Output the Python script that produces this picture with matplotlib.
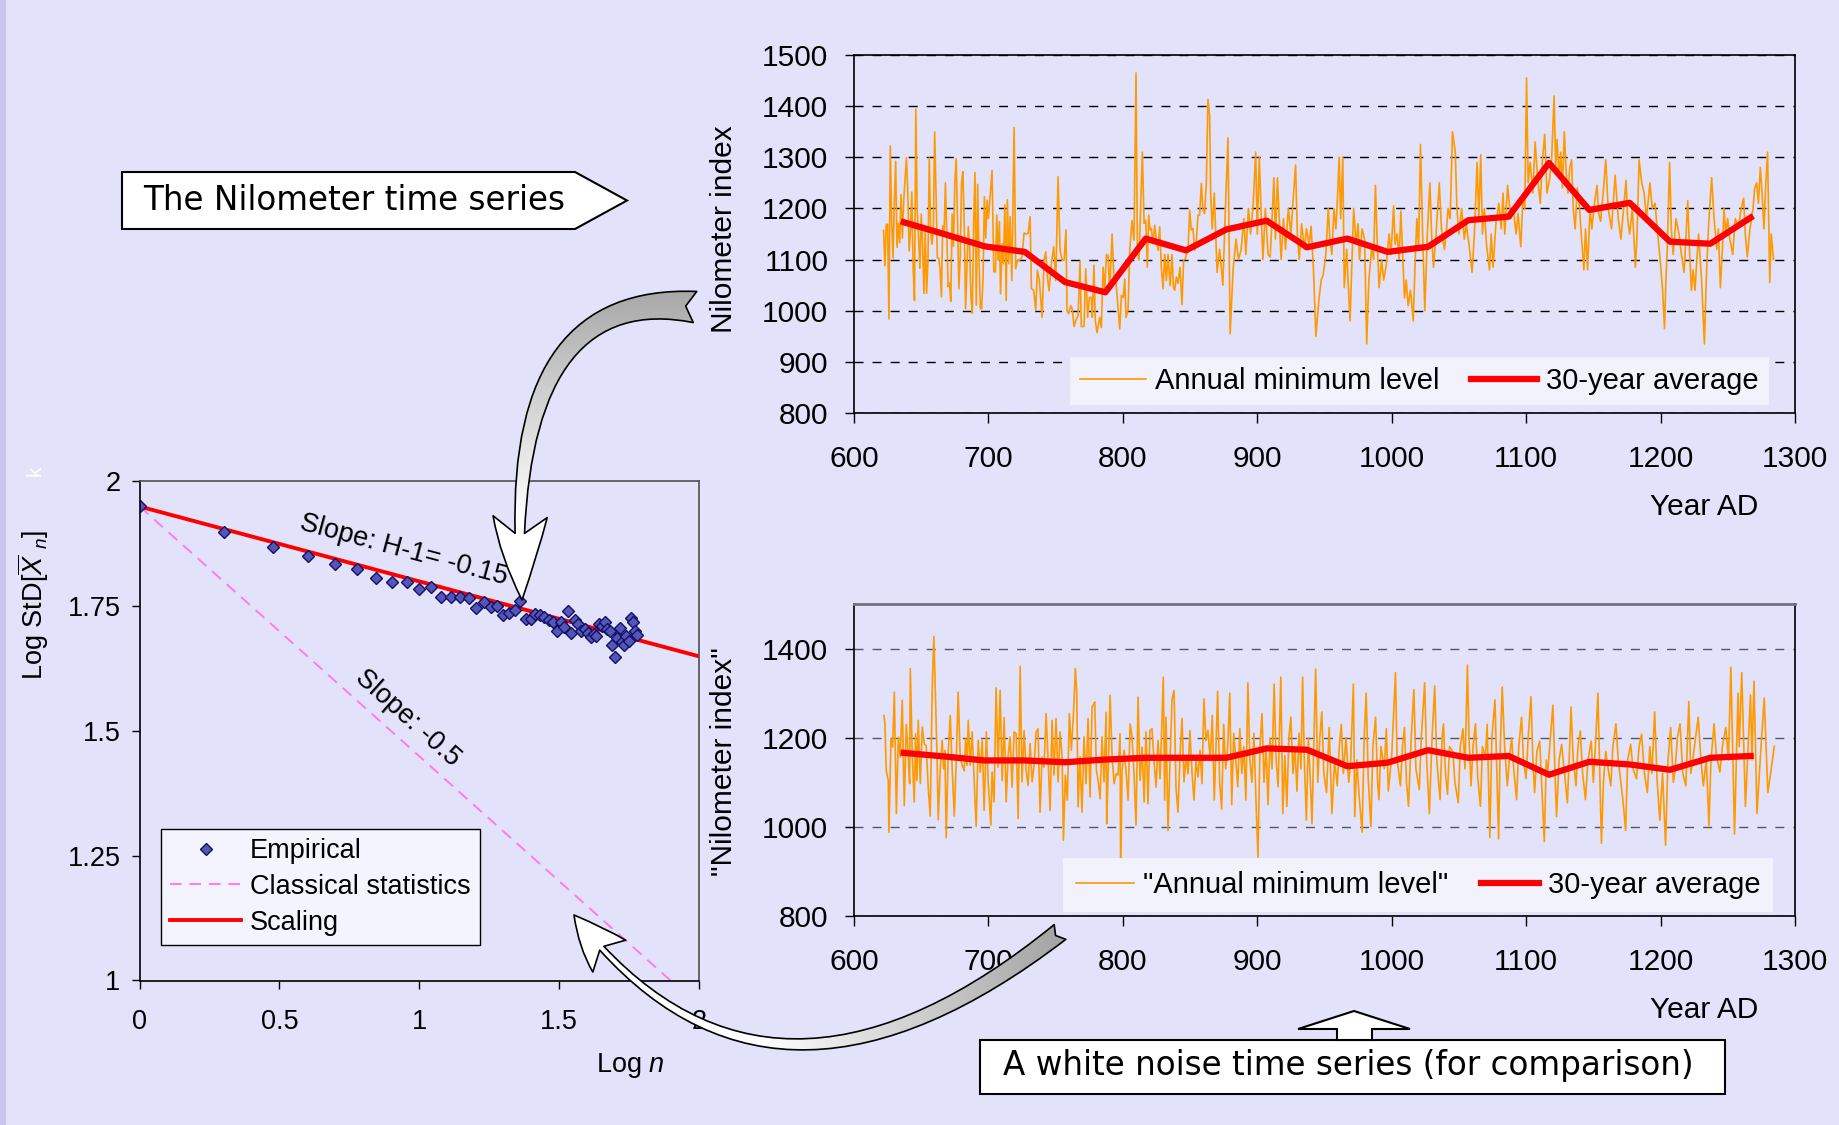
import math

import matplotlib.pyplot as plt
import numpy as np
from matplotlib.colors import LinearSegmentedColormap
from matplotlib.lines import Line2D
from matplotlib.patches import ArrowStyle, FancyArrowPatch, Polygon, Rectangle
from matplotlib.path import Path
from matplotlib.ticker import FormatStrFormatter

plt.rcParams['font.family'] = ['Liberation Sans', 'DejaVu Sans']
plt.rcParams['mathtext.fontset'] = 'custom'
plt.rcParams['mathtext.rm'] = 'Liberation Sans'
plt.rcParams['mathtext.it'] = 'Liberation Sans:italic'

W, H = 1839, 1125
BG = '#E2E2FA'
ORANGE = '#FF9900'
RED = '#FF0000'

# --- Nilometer annual minimum ---
nile_year = list(range(622, 701)) + [
    702.7, 704.0, 705.2, 706.2, 707.2, 708.2, 709.0, 710.2, 711.2, 712.2, 713.2, 714.1, 715.1, 716.1,
    717.4, 719.1, 720.3, 721.6, 723.3, 725.0, 726.5, 728.0, 729.5, 731.0, 732.0, 733.7, 735.2, 736.4,
    737.9, 739.9, 741.4, 742.6, 743.9, 745.1, 746.8, 748.6, 750.1, 751.8, 753.3, 754.8, 756.3, 757.7,
    758.5, 759.7, 761.2, 762.4, 763.7, 765.2, 766.7, 768.1, 769.1, 771.1, 772.4, 773.8, 775.1, 776.6,
    777.3, 778.5, 779.5, 780.8,
    782.8, 784.0, 785.3, 786.5, 787.8, 789.0, 790.2, 792.0, 793.5, 794.7, 795.9, 797.7, 798.9, 800.4,
    801.4, 802.4, 803.9, 805.1, 806.8, 808.3, 809.8, 810.8, 812.0, 813.3, 814.5, 815.8, 817.0, 818.2,
    819.2, 820.2, 821.2, 822.4, 823.7, 824.9, 826.2, 827.4, 828.6, 829.9, 831.1, 832.4, 833.6, 835.1,
    836.6, 837.6, 838.6, 839.8, 841.0, 842.5, 844.0, 845.2, 846.5, 847.5, 848.5, 849.7, 850.9, 852.2,
    853.4, 854.7, 855.9, 857.1, 858.4, 859.6, 860.8, 862.1, 863.3, 864.6,
    865.3, 866.5, 868.0, 870.1, 872.0, 874.4, 876.0, 878.2, 879.8, 882.0, 884.2, 886.0, 888.0, 890.0,
    891.5, 893.4, 895.0, 897.0, 898.8, 900.0, 901.5, 903.0, 904.2, 906.0, 908.0, 909.6, 911.0, 912.3,
    913.5, 915.0, 916.5, 917.7, 919.5, 921.0, 923.1, 925.0, 926.5, 928.5, 929.8, 931.2, 933.0, 935.0,
    936.6, 938.5, 940.0, 941.8, 943.6, 945.8, 947.5, 949.0, 951.0, 952.8, 954.0, 955.5, 957.0, 958.5,
    959.8, 960.9, 962.0, 963.6, 964.7, 966.5, 967.5, 969.0, 970.5, 971.7, 973.5, 975.0, 976.0, 978.0,
    979.8, 981.4, 983.0, 985.2, 986.5, 987.9, 989.0, 990.6, 992.5, 994.0, 996.0, 998.0, 999.5, 1001.4,
    1002.5, 1004.1, 1005.5, 1006.8, 1008.0, 1009.5, 1010.8, 1012.2, 1014.0, 1016.0, 1017.5, 1018.7,
    1020.0, 1021.4, 1023.0, 1024.6, 1026.5, 1028.4, 1029.8, 1031.1, 1033.0, 1035.4, 1037.0, 1039.2,
    1040.5, 1041.9, 1043.5, 1045.2, 1047.3, 1048.5, 1050.0, 1052.0, 1054.0, 1055.4, 1057.5, 1059.8,
    1061.5, 1063.5, 1064.8, 1066.2, 1067.5, 1068.9, 1070.5, 1072.7, 1074.0, 1075.4, 1077.5, 1079.7,
    1081.5, 1082.8, 1084.1, 1086.2, 1088.5, 1090.5, 1092.5, 1094.0, 1096.0, 1097.6, 1099.0, 1100.3,
    1101.5, 1103.0, 1105.0, 1106.7, 1108.5, 1110.5, 1112.0, 1113.8, 1115.5, 1117.6, 1119.0, 1120.8,
    1122.0, 1123.0, 1124.5, 1125.7, 1127.0, 1128.4, 1129.8, 1131.1, 1132.5, 1133.8, 1135.0, 1136.5,
    1138.0, 1139.2, 1141.0, 1142.9, 1144.2, 1145.7, 1147.5, 1148.9, 1150.8, 1152.7, 1154.0, 1155.4,
    1157.3, 1159.2, 1161.0, 1163.5, 1165.0, 1166.2, 1168.5, 1170.5, 1172.5, 1174.3, 1175.5, 1177.0,
    1179.0, 1181.3, 1182.5, 1184.0, 1186.0, 1187.8, 1189.5, 1192.1, 1193.8, 1195.9, 1197.5, 1199.7,
    1201.5, 1202.9, 1204.0, 1205.1, 1206.7, 1208.0, 1209.4, 1211.5, 1213.7, 1215.5, 1217.5, 1219.0,
    1220.2, 1221.5, 1222.9, 1224.2, 1225.6, 1227.0, 1228.3, 1230.5, 1232.6, 1234.0, 1235.3, 1236.5,
    1238.0, 1239.8, 1241.8, 1243.0, 1244.5, 1246.0, 1247.2, 1248.5, 1249.9, 1251.5, 1253.7, 1255.5,
    1258.0, 1260.0, 1261.8, 1263.0, 1264.5, 1266.5, 1268.8, 1270.0, 1271.5, 1272.8, 1274.2, 1275.5,
    1276.9, 1278.3, 1279.6, 1281.2, 1282.3, 1284.0]
nile_min = [
    1157, 1088, 1169, 1169, 984, 1322, 1178, 1103, 1211, 1292, 1124, 1171, 1133, 1227, 1142, 1216,
    1259, 1299, 1232, 1117, 1155, 1232, 1083, 1020, 1394, 1196, 1148, 1083, 1189, 1133, 1034, 1157,
    1034, 1097, 1299, 1157, 1130, 1155, 1349, 1232, 1103, 1103, 1083, 1027, 1166, 1148, 1250, 1155,
    1047, 1054, 1018, 1189, 1126, 1250, 1297, 1178, 1043, 1103, 1250, 1272, 1169, 1004, 1083, 1164,
    1124, 1027, 995, 1169, 1270, 1011, 1247, 1101, 1004, 1004, 1065, 1223, 1142, 1216, 1180,
    1274, 1076, 1076, 1187, 1099, 1174, 1033, 1131, 1092, 1207, 1020, 1217, 1092, 1184,
    1059, 1358, 1082, 1099, 1099, 1105, 1152, 1150, 1151, 1184, 1043, 1040, 1000, 1079,
    1059, 987, 1099, 1115, 1066, 1039, 1092, 1125, 1059, 1262, 1118, 1099, 1099, 1158,
    1000, 994, 1010, 1003, 969, 982, 990, 1097, 969, 969, 1082, 987, 1026, 1026,
    987, 1089, 980, 957,
    987, 967, 1085, 1040, 1110, 1108, 1040, 1150, 1053, 1059, 1023, 964, 1030, 1026,
    1062, 987, 1003, 1118, 1176, 1138, 1465, 1118, 1099, 1210, 1310, 1171, 1177, 1085,
    1187, 1158, 1161, 1131, 1167, 1138, 1118, 1164, 1085, 1043, 1110, 1059, 1110, 1049,
    1110, 1046, 1040, 1066, 1053, 1085, 1012, 1099, 1102, 1112, 1118, 1197, 1158, 1161,
    1118, 1138, 1187, 1187, 1249, 1197, 1190, 1249, 1413, 1380,
    1230, 1160, 1230, 1075, 1120, 1050, 1180, 1338, 955, 1080, 1140, 1100, 1120, 1180,
    1110, 1200, 1150, 1210, 1310, 1150, 1300, 1180, 1100, 1200, 1110, 1105, 1180, 1260,
    1140, 1260, 1170, 1100, 1180, 1120, 1200, 1150, 1210, 1285, 1150, 1100, 1170, 1120,
    1160, 1130, 1165, 1080, 950, 1020, 1060, 1070, 1110, 1200, 1140, 1110, 1200, 1160,
    1230, 1300, 1180, 1300, 1045, 1120, 1060, 980, 1100, 1200, 1130, 1170, 1100, 1160,
    1140, 935, 1060, 1125, 1100, 1245, 1150, 1045, 1100, 1060, 1090, 1150, 1110, 1205,
    1130, 1150, 1100, 1195, 1120, 1025, 1060, 1010, 1040, 980, 1100, 1180,
    1120, 1325, 1150, 1000, 1150, 1250, 1140, 1085, 1150, 1250, 1160, 1120,
    1150, 1200, 1180, 1350, 1310, 1200, 1150, 1200, 1140, 1170, 1130, 1075,
    1150, 1290, 1180, 1305, 1150, 1200, 1130, 1080, 1150, 1085, 1170, 1210,
    1160, 1230, 1150, 1245, 1180, 1200, 1150, 1190, 1125, 1220, 1200, 1455,
    1250, 1290, 1230, 1330, 1260, 1210, 1290, 1345, 1230, 1260, 1300, 1420,
    1280, 1335, 1260, 1310, 1240, 1350, 1270, 1230, 1280, 1295, 1200, 1160,
    1240, 1220, 1150, 1080, 1160, 1080, 1200, 1160, 1210, 1245, 1190, 1175,
    1230, 1295, 1200, 1160, 1220, 1265, 1180, 1140, 1200, 1255, 1180, 1150,
    1200, 1085, 1150, 1295, 1250, 1230, 1180, 1250, 1200, 1210, 1160, 1100,
    1040, 965, 1060, 1130, 1290, 1160, 1110, 1180, 1150, 1110, 1075, 1150,
    1215, 1120, 1040, 1080, 1040, 1100, 1150, 1060, 935, 1060, 1145, 1200,
    1260, 1180, 1120, 1160, 1045, 1120, 1200, 1150, 1180, 1140, 1110, 1180,
    1165, 1200, 1220, 1150, 1105, 1160, 1200, 1240, 1250, 1210, 1280, 1230,
    1160, 1250, 1310, 1055, 1150, 1100]

# --- white noise series ---
noise_year = [
    622.3, 623.0, 624.0, 625.5, 626.0, 627.5, 628.7, 630.0, 631.5, 633.0, 634.4, 635.9, 637.4, 638.9,
    640.4, 641.4, 641.9, 643.3, 644.8, 645.8, 646.8, 647.8, 649.3, 650.8, 652.3, 653.7, 655.2, 656.7,
    658.2, 659.4, 660.7, 661.7, 662.7, 664.2, 665.6, 666.6, 667.6, 668.6, 670.1, 671.6, 673.1, 674.6,
    676.0, 677.5, 679.0, 680.5, 682.0, 683.0, 684.0, 685.0, 686.4, 687.9, 689.4, 690.9, 692.4, 693.9,
    695.4, 696.8,
    698.5, 699.8, 701.8, 702.7, 704.2, 705.7, 707.2, 708.7, 710.2, 711.7, 713.2, 714.6, 716.1, 717.6,
    719.1, 720.6, 722.1, 723.6, 725.0, 726.5, 728.0, 729.5, 731.0, 732.5, 734.0, 735.4, 736.9, 738.4,
    739.9, 741.4, 742.9, 744.4, 745.9, 747.3, 748.8, 750.3, 751.8, 753.3, 754.8, 755.8, 757.2, 758.7,
    760.2, 761.7, 763.2, 764.7, 765.7, 766.7, 768.1, 769.6, 771.1, 772.6, 774.1, 775.6, 777.1, 778.5,
    779.1, 780.3, 781.6, 783.1, 784.5, 786.0, 787.5, 788.0, 789.0, 790.5, 792.0, 793.5, 795.0, 796.4,
    797.9, 798.4, 799.4, 800.9, 802.4, 803.9, 805.4, 806.8, 808.3, 809.8, 811.3, 812.8, 814.3, 815.8,
    817.2, 818.7, 820.2, 821.7, 823.2, 824.7, 826.2, 827.7, 829.1, 830.1, 831.1, 832.1, 833.6, 835.1,
    836.6, 838.1, 839.5, 841.0, 842.5, 844.0, 845.5, 847.0, 848.5, 849.9, 851.4, 852.9, 854.4, 855.9,
    857.4, 858.9, 860.3, 861.8, 863.3,
    865.0, 866.5, 868.0, 869.5, 870.5, 872.0, 873.5, 875.0, 876.5, 878.0, 879.5, 881.0, 882.5, 884.0,
    885.5, 887.0, 888.5, 890.0, 891.5, 893.0, 894.5, 896.0, 897.5, 899.0, 900.5, 902.0, 903.5, 905.0,
    906.5, 908.0, 909.5, 911.0, 912.5, 914.0, 915.5, 917.5, 919.0, 920.5, 922.0, 923.5, 925.0, 926.5,
    928.0, 929.5, 931.0, 932.5, 933.7, 935.0, 936.5, 938.0, 939.5, 940.7, 942.0, 943.4, 945.0, 946.5,
    948.0, 949.5, 951.5, 953.5, 955.5, 957.5, 959.5, 961.0, 962.5, 964.0, 966.0, 968.0, 969.5, 971.5,
    972.5, 974.0, 976.0, 978.0, 979.5, 981.0, 982.5, 984.5, 986.0, 988.0, 989.5, 990.5, 992.0, 994.5,
    996.0, 997.5, 1000.0, 1002.8, 1004.0, 1006.5, 1008.0, 1009.5, 1011.0, 1012.5, 1014.5, 1016.5,
    1018.0, 1020.5, 1022.0, 1024.5, 1026.0, 1028.0, 1030.0, 1032.0, 1033.5, 1036.0, 1037.5, 1038.5,
    1040.0, 1041.5, 1043.0, 1045.5, 1047.0, 1049.5, 1051.0, 1053.0, 1054.5, 1056.3, 1057.5, 1059.0,
    1060.5, 1062.3, 1064.0, 1066.0, 1067.5, 1069.7, 1071.0, 1073.0, 1074.5, 1076.8, 1078.0, 1079.5,
    1080.5, 1082.2, 1084.0, 1086.0, 1087.5, 1089.2, 1091.0, 1092.9, 1094.5, 1096.6, 1098.0, 1099.9,
    1101.5, 1103.6, 1105.0, 1106.3, 1108.0, 1110.1, 1111.5, 1113.5, 1115.0, 1116.1, 1118.0, 1119.9,
    1121.5, 1122.6, 1124.5, 1126.4, 1128.5, 1130.7, 1132.0, 1133.4, 1135.0, 1137.1, 1138.5, 1140.3,
    1142.0, 1144.1, 1146.0, 1148.4, 1150.0, 1151.5, 1153.4, 1156.0, 1157.5, 1159.2, 1161.0, 1163.0,
    1164.5, 1166.8, 1168.5, 1170.1, 1172.0, 1174.0, 1175.5, 1177.8, 1179.5, 1182.1, 1184.0, 1185.9,
    1188.0, 1190.2, 1192.0, 1193.5, 1195.6, 1197.5, 1199.4, 1201.5, 1203.7, 1205.5, 1207.5, 1209.5,
    1210.7, 1212.5, 1214.5, 1216.5, 1218.8, 1221.0, 1222.5, 1224.2, 1226.0, 1228.0, 1230.0, 1231.8,
    1234.0, 1236.0, 1237.5, 1239.8, 1241.5, 1244.1, 1246.0, 1248.5, 1250.5, 1252.3, 1255.0, 1257.6,
    1258.5, 1260.4, 1263.1, 1266.9, 1268.0, 1269.5, 1271.7, 1274.5, 1277.1, 1279.8, 1282.0, 1284.6]
noise_val = [
    1250, 1231, 1126, 1104, 988, 1198, 1179, 1302, 1030, 1201, 1156, 1284, 1048, 1230,
    1156, 1097, 1355, 1164, 1056, 1209, 1104, 1239, 1097, 1224, 1186, 1182, 1089, 1024,
    1313, 1427, 1276, 1168, 1016, 1134, 1194, 1130, 1171, 976, 1168, 1250, 1126, 1024,
    1141, 1302, 1156, 1138, 1126, 1197, 1138, 1239, 1138, 1213, 1101, 1001, 1194, 1123,
    1194, 1037,
    1213, 1101, 1004, 1123, 1056, 1312, 1134, 1306, 1104, 1245, 1056, 1157, 1202, 1089,
    1213, 1209, 1019, 1360, 1101, 1216, 1127, 1093, 1187, 1101, 1138, 1213, 1220, 1033,
    1157, 1134, 1254, 1149, 1037, 1239, 1116, 1243, 1101, 1213, 1158, 970, 1116, 1060,
    1254, 1172, 1250, 1355, 1299, 1045, 1157, 1033, 1202, 1097, 1243, 1067, 1269, 1276,
    1280, 1127, 1104, 1063, 1202, 1101, 1257, 1007, 1116, 1295, 1157, 1097, 1119, 1116,
    1209, 888, 1127, 1172, 1123, 1060, 1231, 1202, 1119, 1004, 1291, 1104, 1179, 1056,
    1213, 1052, 1216, 1220, 1149, 1089, 1194, 1108, 1243, 1336, 1060, 1246, 992, 1149,
    1287, 1306, 1089, 1033, 1157, 1243, 1101, 1157, 1119, 1216, 1123, 1060, 1149, 1112,
    1172, 1097, 1287, 1194, 1216,
    1150, 1250, 1060, 1200, 1304, 1100, 1040, 1230, 1130, 1180, 1300, 1050, 1210, 1150,
    1090, 1220, 1120, 1180, 1060, 1323, 1150, 1100, 1210, 1060, 932, 1180, 1254, 1100,
    1180, 1050, 1200, 1130, 1320, 1150, 1090, 1336, 1030, 1160, 1046, 1200, 1246, 1120,
    1180, 1080, 1210, 1130, 1336, 1150, 1015, 1200, 1100, 1007, 1180, 1354, 1100, 1200,
    1258, 1120, 1077, 1223, 1030, 1150, 1092, 1180, 1230, 1120, 1200, 1100, 1150, 1320,
    1023, 1150, 1060, 988, 1200, 1300, 1110, 1000, 1180, 1246, 1100, 1061, 1180, 1131,
    1220, 1080, 1160, 1346, 1150, 1092, 1180, 1223, 1100, 1046, 1200, 1308,
    1130, 1084, 1200, 1323, 1150, 1030, 1200, 1316, 1150, 1061, 1200, 1231,
    1120, 1073, 1180, 1169, 1100, 1054, 1180, 1220, 1130, 1363, 1200, 1092,
    1180, 1231, 1110, 1046, 1180, 1154, 1230, 976, 1200, 1285, 1150, 973,
    1150, 1314, 1180, 1092, 1150, 1200, 1120, 1061, 1180, 1246, 1150, 1108,
    1200, 1292, 1150, 1077, 1170, 1192, 1100, 967, 1150, 1123, 1200, 1273,
    1120, 1023, 1150, 1185, 1120, 1054, 1150, 1269, 1150, 1092, 1180, 1215,
    1120, 1061, 1150, 1192, 1100, 1180, 1300, 963, 1100, 1169, 1130, 1092,
    1180, 1231, 1150, 1108, 1060, 992, 1150, 1185, 1130, 1108, 1180, 1208,
    1120, 1077, 1180, 1120, 1258, 1100, 1015, 1120, 959, 1150, 1223, 1100,
    1123, 1200, 1231, 1120, 1092, 1281, 1120, 1154, 1200, 1246, 1150, 1092,
    1150, 1003, 1150, 1231, 1160, 1123, 1180, 1223, 1150, 1358, 984, 1300,
    1180, 1346, 1046, 1296, 1150, 1327, 1030, 1169, 1289, 1077, 1123, 1181]

# --- 30-year averages ---
avg_year = [637, 667, 697, 727, 757, 787, 817, 847, 877, 907, 937,
            967, 997, 1027, 1057, 1087, 1117, 1147, 1177, 1207, 1237, 1267]
nile_avg = [1173, 1150, 1126, 1115, 1056, 1036, 1141, 1118, 1159, 1176, 1124,
            1141, 1115, 1125, 1177, 1184, 1289, 1197, 1211, 1135, 1131, 1182]
noise_avg = [1166, 1158, 1149, 1149, 1145, 1151, 1155, 1155, 1155, 1176, 1173,
             1136, 1144, 1172, 1155, 1159, 1117, 1146, 1140, 1128, 1155, 1159]

# --- aggregated standard deviation (climacogram) ---
agg_scale = [1, 2, 3, 4, 5, 6, 7, 8, 9, 10, 11, 12, 13, 14, 15, 16, 17, 18, 19, 20,
             21, 22, 23, 24, 25, 26, 27, 28, 29, 30, 31, 32, 33, 34, 35, 36, 37, 38, 39, 40,
             41, 42, 43, 44, 45, 46, 47, 48, 49, 50, 51, 52, 53, 54, 55, 56, 57, 58, 59, 60]
log_std = [1.949, 1.897, 1.867, 1.849, 1.834, 1.823, 1.805, 1.798, 1.798, 1.783,
           1.787, 1.768, 1.768, 1.768, 1.765, 1.746, 1.758, 1.748, 1.750, 1.732,
           1.736, 1.742, 1.759, 1.724, 1.723, 1.733, 1.732, 1.728, 1.721, 1.718,
           1.700, 1.718, 1.708, 1.740, 1.696, 1.722, 1.713, 1.700, 1.703, 1.695,
           1.688, 1.693, 1.690, 1.713, 1.710, 1.718, 1.703, 1.700, 1.672, 1.647,
           1.685, 1.705, 1.677, 1.672, 1.690, 1.680, 1.725, 1.718, 1.700, 1.692]
scaling_x = [0, 2]
scaling_y = [1.949, 1.649]
classic_x = [0, 2]
classic_y = [1.949, 0.949]


def fx(px):
    return px / W


def fy(py):
    return 1 - py / H


fig = plt.figure(figsize=(W / 100, H / 100), dpi=100, facecolor=BG)
fig.add_artist(Rectangle((0, 0), fx(6), 1, transform=fig.transFigure,
                         facecolor='#C6C6F0', edgecolor='none'))


def style_series(ax, yticks, grid_color, top_color):
    ax.set_facecolor('none')
    ax.set_xlim(600, 1300)
    ax.set_ylim(800, 1500)
    ax.set_xticks(range(600, 1301, 100))
    ax.set_yticks(yticks)
    ax.tick_params(axis='both', direction='out', labelsize=21.5, width=1)
    ax.tick_params(axis='x', length=7.2, pad=16)
    ax.tick_params(axis='y', length=6.5, pad=12)
    ax.yaxis.grid(True, linestyle=(0, (6.5, 6.5)), color=grid_color, lw=1)
    ax.set_axisbelow(True)
    for s in ax.spines.values():
        s.set_linewidth(1.2)
    ax.spines['top'].set_color(top_color)


# top: Nilometer series
ax1 = fig.add_axes([fx(854), fy(413), (1795 - 854) / W, (413 - 55) / H])
style_series(ax1, range(800, 1501, 100), 'black', 'black')
ax1.plot(nile_year, nile_min, color=ORANGE, lw=1.2, label='Annual minimum level')
ax1.plot(avg_year, nile_avg, color=RED, lw=4.5, label='30-year average')
ax1.legend(loc='lower right', bbox_to_anchor=(0.972, 0.022), ncol=2, fontsize=21,
           frameon=True, facecolor='#F2F2FD', edgecolor='none', framealpha=1,
           fancybox=False, handlelength=2.25, handletextpad=0.3, columnspacing=1.1,
           borderpad=0.35, borderaxespad=0)

# bottom: white noise
ax2 = fig.add_axes([fx(854), fy(916), (1795 - 854) / W, (916 - 604) / H])
style_series(ax2, range(800, 1401, 200), '#55556A', '#707080')
ax2.spines['top'].set_linewidth(2)
ax2.plot(noise_year, noise_val, color=ORANGE, lw=1.2, label='"Annual minimum level"')
ax2.plot(avg_year, noise_avg, color=RED, lw=4.5, label='30-year average')
ax2.legend(loc='lower right', bbox_to_anchor=(0.977, 0.013), ncol=2, fontsize=21,
           frameon=True, facecolor='#F2F2FD', edgecolor='none', framealpha=1,
           fancybox=False, handlelength=2.0, handletextpad=0.3, columnspacing=1.1,
           borderpad=0.45, borderaxespad=0)

fig.text(fx(724), fy(229), 'Nilometer index', rotation=90, fontsize=21.5, ha='center', va='center')
fig.text(fx(724), fy(762), '"Nilometer index"', rotation=90, fontsize=21.5, ha='center', va='center')
fig.text(fx(1704), fy(507), 'Year AD', fontsize=21.5, ha='center', va='center')
fig.text(fx(1704), fy(1010), 'Year AD', fontsize=21.5, ha='center', va='center')

# left: log-log plot of standard deviation vs scale
ax3 = fig.add_axes([fx(139.6), fy(980.5), (699 - 139.6) / W, (980.5 - 481) / H])
ax3.set_facecolor('none')
ax3.plot(classic_x, classic_y, color='#FF77FF', lw=1.4, dashes=(6, 4))
ax3.plot(scaling_x, scaling_y, color=RED, lw=2.8)
log_n = [math.log10(n) for n in agg_scale]
ax3.plot(log_n, log_std, ls='none', marker='D', ms=6.5, mfc='#5555B5', mec='#10106A', mew=1)
ax3.set_xlim(0, 2)
ax3.set_ylim(1, 2)
ax3.set_xticks([0, 0.5, 1, 1.5, 2])
ax3.set_yticks([1, 1.25, 1.5, 1.75, 2])
ax3.xaxis.set_major_formatter(FormatStrFormatter('%g'))
ax3.yaxis.set_major_formatter(FormatStrFormatter('%g'))
ax3.tick_params(direction='out', labelsize=19.5, length=5.8, width=1)
ax3.tick_params(axis='x', pad=14.5)
ax3.tick_params(axis='y', pad=8)
for side in ['top', 'right']:
    ax3.spines[side].set_color('#505050')
for s in ax3.spines.values():
    s.set_linewidth(1.2)

ax3.text(0.943, 1.862, 'Slope: H-1= -0.15', rotation=-15, fontsize=19.5,
         ha='center', va='center', rotation_mode='anchor')
ax3.text(0.958, 1.526, 'Slope: -0.5', rotation=-41.8, fontsize=19.5,
         ha='center', va='center', rotation_mode='anchor')

handles = [Line2D([], [], ls='none', marker='D', ms=6.5, mfc='#5555B5', mec='#10106A'),
           Line2D([], [], color='#FF77FF', lw=1.4, dashes=(6, 4)),
           Line2D([], [], color=RED, lw=2.8)]
ax3.legend(handles, ['Empirical', 'Classical statistics', 'Scaling'],
           loc='lower left', bbox_to_anchor=(0.038, 0.071), fontsize=19.5,
           frameon=True, facecolor='#F4F4FF', edgecolor='black', framealpha=1,
           fancybox=False, handlelength=2.6, handletextpad=0.35, labelspacing=0.36,
           borderpad=0.35, borderaxespad=0)

fig.text(fx(630), fy(1066), 'Log $n$', fontsize=19.5, ha='center', va='center')
fig.text(fx(33), fy(605), r'Log StD[$\overline{X}$ $_n$]', rotation=90, fontsize=19.5,
         ha='center', va='center')
fig.text(fx(35), fy(471), 'k', rotation=90, fontsize=15, color='white', ha='center', va='center')

# call-out boxes
fig.add_artist(Polygon([(fx(122), fy(172)), (fx(575), fy(172)), (fx(627), fy(200.5)),
                        (fx(575), fy(229)), (fx(122), fy(229))], closed=True,
                       transform=fig.transFigure, facecolor='white', edgecolor='black', lw=1.5))
fig.text(fx(143), fy(201), 'The Nilometer time series', fontsize=23.5, family='DejaVu Sans',
         ha='left', va='center')

fig.add_artist(Polygon([(fx(980), fy(1040)), (fx(1725), fy(1040)), (fx(1725), fy(1094)),
                        (fx(980), fy(1094))], closed=True,
                       transform=fig.transFigure, facecolor='white', edgecolor='black', lw=1.5))
fig.text(fx(1348), fy(1066), 'A white noise time series (for comparison)', fontsize=23.5,
         family='DejaVu Sans', ha='center', va='center')
fig.add_artist(Polygon([(fx(1354), fy(1011)), (fx(1410), fy(1029)), (fx(1372), fy(1029)),
                        (fx(1372), fy(1040)), (fx(1337), fy(1040)), (fx(1337), fy(1029)),
                        (fx(1298), fy(1029))], closed=True,
                       transform=fig.transFigure, facecolor='white', edgecolor='black', lw=1.5))

# curved arrows with a grey-to-white fill, drawn in pixel coordinates
ov = fig.add_axes([0, 0, 1, 1], zorder=20)
ov.set_autoscale_on(False)
ov.set_xlim(0, W)
ov.set_ylim(H, 0)
ov.axis('off')


def gradient_arrow(verts, style, extent, stops, vertical):
    path = Path(verts, [Path.MOVETO, Path.CURVE3, Path.CURVE3])
    base = FancyArrowPatch(path=path, arrowstyle=style, mutation_scale=30,
                           facecolor='white', edgecolor='none', zorder=1)
    ov.add_patch(base)
    g = np.linspace(0, 1, 256)
    g = g.reshape(-1, 1) if vertical else g.reshape(1, -1)
    cmap = LinearSegmentedColormap.from_list('fade', stops)
    im = ov.imshow(g, cmap=cmap, extent=extent, aspect='auto', zorder=2,
                   interpolation='bilinear')
    im.set_clip_path(base)
    ov.add_patch(FancyArrowPatch(path=path, arrowstyle=style, mutation_scale=30,
                                 facecolor='none', edgecolor='black', lw=1.2, zorder=3))


gradient_arrow([(695, 307), (500, 285), (522, 600)],
               ArrowStyle.Fancy(head_length=2.0, head_width=1.3, tail_width=0.75),
               [470, 720, 620, 280], [(0, '#A4A4A4'), (0.7, 'white'), (1, 'white')], True)
gradient_arrow([(1060, 932), (765, 1165), (574, 915)],
               ArrowStyle.Fancy(head_length=1.3, head_width=1.1, tail_width=0.45),
               [550, 1075, 1070, 890], [(0, 'white'), (0.4, 'white'), (1, '#A0A0A0')], False)
ov.set_xlim(0, W)
ov.set_ylim(H, 0)

fig.savefig('out.png', dpi=100, facecolor=BG)
